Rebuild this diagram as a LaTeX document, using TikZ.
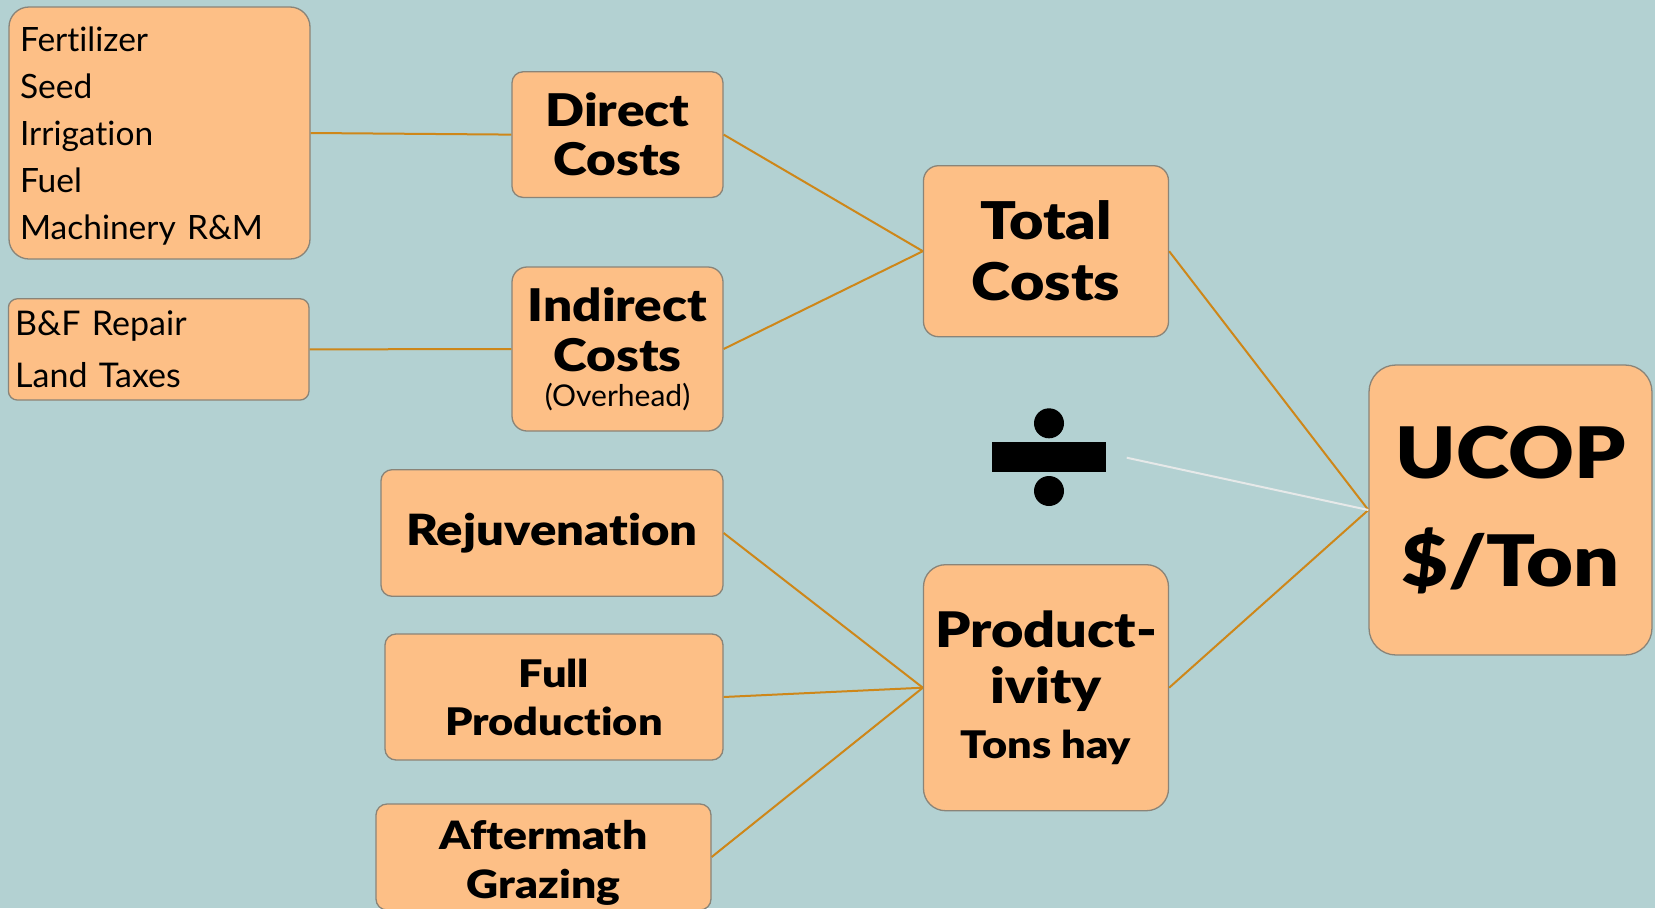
\documentclass[tikz,border=0pt]{standalone}
\usepackage{fontspec}
\setmainfont{Lato}[Ligatures={NoCommon,NoContextual}, BoldFont={Lato Black}, BoldFeatures={FakeStretch=1.14}]
\definecolor{bgblue}{HTML}{B3D1D2}
\definecolor{boxfill}{HTML}{FDBF86}
\definecolor{boxline}{HTML}{8A8478}
\definecolor{linkorange}{HTML}{CE8719}
\definecolor{glarewhite}{HTML}{E6E9E9}
\newcommand{\fs}[2]{\fontsize{#1}{#2}\selectfont}
\tikzset{
  costbox/.style={draw=boxline, line width=1.3pt, fill=boxfill, rounded corners=#1, inner sep=0pt, align=center, font=\bfseries},
  sz/.style 2 args={minimum width=#1, minimum height=#2},
  link/.style={draw=linkorange, line width=2pt},
  glare/.style={draw=glarewhite, line width=2pt},
}

\begin{document}
\begin{tikzpicture}[x=1pt,y=-1pt]
  \clip (0,0) rectangle (1655,908);
  \fill[bgblue] (0,0) rectangle (1655,908);
  % input lists
  \node[costbox=20pt, sz={301pt}{252pt}, align=left, text width=279pt, font=\fs{33.5}{47}] (directlist) at (159.5,133) {\rule{0pt}{31pt}Fertilizer\\Seed\\Irrigation\\Fuel\\Machinery R\&M};
  \node[costbox=9pt, sz={300.6pt}{101.3pt}, align=left, text width=287pt, font=\fs{34}{52}] (indirectlist) at (158.7,349.4) {B\&F Repair\\Land Taxes};
  % costs
  \node[costbox=11pt, sz={211pt}{125.6pt}, font=\bfseries\fs{45}{49}] (direct) at (617.5,134.6) {Direct\\Costs};
  \node[costbox=15pt, sz={211pt}{164pt}, font=\bfseries\fs{45}{50}] (indirect) at (617.5,349) {Indirect\\Costs\\[-15pt]{\mdseries\fs{30}{30}(Overhead)}};
  \node[costbox=15pt, sz={245pt}{171pt}, font=\bfseries\fs{52}{61}] (total) at (1046,251.2) {Total\\Costs};
  % productivity
  \node[costbox=11pt, sz={342pt}{126.6pt}, font=\bfseries\fs{43}{50}] (rejuv) at (552,533) {Rejuvenation};
  \node[costbox=11pt, sz={338pt}{126pt}, font=\bfseries\fs{38}{48}] (fullprod) at (554,697) {Full\\Production};
  \node[costbox=11pt, sz={335pt}{106pt}, font=\bfseries\fs{39}{49}] (aftermath) at (543.5,857) {\rule{0pt}{40pt}Aftermath\\Grazing};
  \node[costbox=22pt, sz={245pt}{246pt}, font=\bfseries\fs{49}{56}] (prod) at (1046,687.7) {Product-\\ivity\\[-1pt]{\fs{38}{38}Tons hay}};
  % result
  \node[costbox=27pt, sz={283pt}{290pt}, font=\bfseries\fs{71}{108}] (ucop) at (1510.5,510) {UCOP\\\$/Ton};
  % divide sign
  \fill (991.7,442.3) rectangle (1106,471.7);
  \fill (1049,423.3) circle (15pt);
  \fill (1049,491) circle (15pt);
  \coordinate (divtip) at (1126.7,457.7);
  % links
  \draw[link] (directlist.east) -- (direct.west);
  \draw[link] (indirectlist.east) -- (indirect.west);
  \draw[link] (direct.east) -- (total.west);
  \draw[link] (indirect.east) -- (total.west);
  \draw[link] (rejuv.east) -- (prod.west);
  \draw[link] (fullprod.east) -- (prod.west);
  \draw[link] (aftermath.east) -- (prod.west);
  \draw[link] (total.east) -- (ucop.west);
  \draw[link] (prod.east) -- (ucop.west);
  \draw[glare] (divtip) -- (ucop.west);
\end{tikzpicture}
\end{document}
